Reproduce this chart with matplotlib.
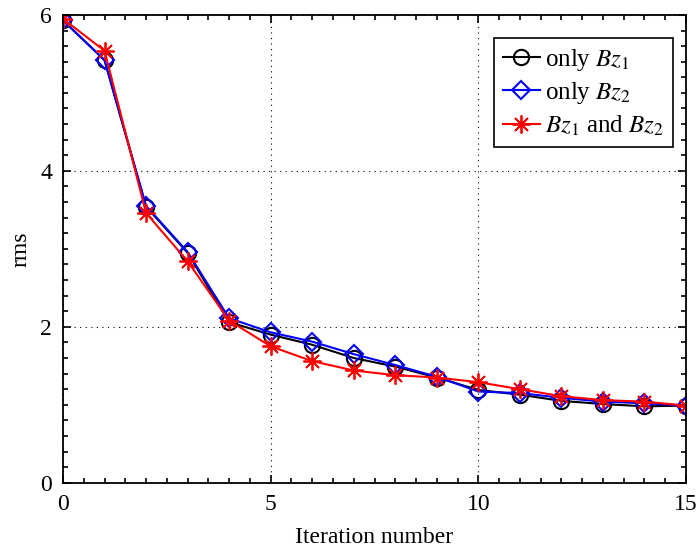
import matplotlib.pyplot as plt
from matplotlib.ticker import MultipleLocator

plt.rcParams['font.family'] = ['Liberation Serif', 'DejaVu Serif']
plt.rcParams['mathtext.fontset'] = 'stix'

iterations = list(range(16))
only_bz1 = [5.93, 5.42, 3.54, 2.95, 2.06, 1.90, 1.77, 1.60, 1.49, 1.35,
            1.19, 1.13, 1.05, 1.01, 0.98, 0.99]
only_bz2 = [5.93, 5.42, 3.55, 2.96, 2.11, 1.93, 1.81, 1.65, 1.51, 1.36,
            1.17, 1.15, 1.09, 1.04, 1.02, 0.99]
bz1_and_bz2 = [5.95, 5.54, 3.46, 2.84, 2.08, 1.75, 1.56, 1.44, 1.38, 1.35,
               1.29, 1.20, 1.11, 1.06, 1.04, 0.99]

fig = plt.figure(figsize=(7, 5.53), dpi=100)
ax = fig.add_axes([0.09, 0.127, 0.89, 0.846])

ax.plot(iterations, only_bz1, '-o', color='black', lw=1.5, ms=11,
        mfc='none', mew=1.5, label=r'only $Bz_1$')
ax.plot(iterations, only_bz2, '-D', color='blue', lw=1.5, ms=9,
        mfc='none', mew=1.5, label=r'only $Bz_2$')
# asterisk marker: 8 arms like a '+' on top of an 'x'
ax.plot(iterations, bz1_and_bz2, '-', marker=(8, 2, 0), color='red', lw=1.5,
        ms=13, mew=1.3, label=r'$Bz_1$ and $Bz_2$')

ax.set_xlim(0, 15)
ax.set_ylim(0, 6)
ax.xaxis.set_major_locator(MultipleLocator(5))
ax.xaxis.set_minor_locator(MultipleLocator(0.5))
ax.yaxis.set_major_locator(MultipleLocator(2))
ax.yaxis.set_minor_locator(MultipleLocator(0.2))
ax.tick_params(which='both', direction='in', top=True, right=True,
               labelsize=17, width=1.2)
ax.tick_params(which='major', length=6, pad=8)
ax.tick_params(which='minor', length=3.5)
for s in ax.spines.values():
    s.set_linewidth(1.3)

ax.grid(True, which='major', color='black', linestyle=(0, (1, 4)), lw=0.8)
ax.set_xlabel('Iteration number', fontsize=17, labelpad=9)
ax.set_ylabel('rms', fontsize=17, labelpad=6)

leg = ax.legend(loc='upper right', bbox_to_anchor=(0.979, 0.951),
                fontsize=18, frameon=True, fancybox=False,
                edgecolor='black', framealpha=1, handlelength=1.5,
                handletextpad=0.2, borderpad=0.35, labelspacing=0.3,
                borderaxespad=0)
leg.get_frame().set_linewidth(1.2)

fig.savefig('out.png', dpi=100)
